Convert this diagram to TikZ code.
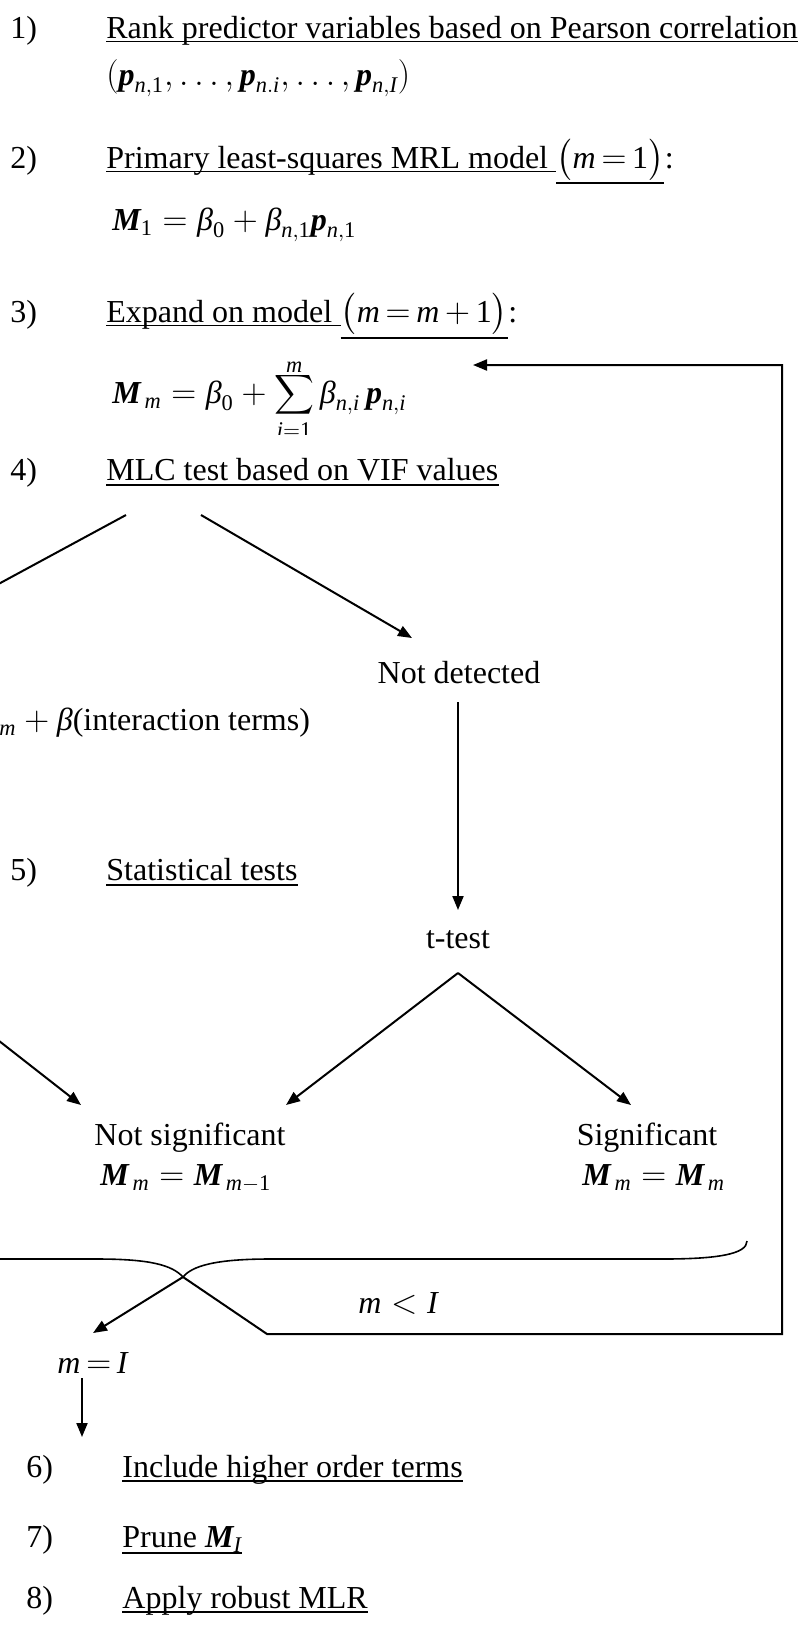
\documentclass[tikz,border=0pt]{standalone}
\usepackage{amsmath}
\usepackage{graphicx}
\usepackage{fontspec}
\setmainfont{Liberation Serif}
\usetikzlibrary{arrows.meta}
\newcommand\vi[1]{\text{\normalfont\itshape #1}}
\newcommand\vb[1]{\text{\normalfont\bfseries\itshape #1}}
\newcommand\tx[1]{\text{\normalfont #1}}
\newcommand\midsum{\mathop{\vcenter{\hbox{\scalebox{0.8}{$\displaystyle\sum$}}}}\limits}
\begin{document}
\begin{tikzpicture}[x=0.5pt,y=-0.5pt,
  font=\fontsize{16}{19}\selectfont,
  lbl/.style={anchor=base west, inner sep=0pt},
  ctr/.style={anchor=base, inner sep=0pt},
  conn/.style={line width=1pt,-{Triangle[length=7pt,width=5.5pt]}},
  plainline/.style={line width=1pt},
  uline/.style={line width=0.7pt},
  bracel/.style={line width=0.8pt}]
\useasboundingbox (0,0) rectangle (803,1629);
\begin{scope}
\clip (0,0) rectangle (803,1629);
% 1)
\node[lbl] (n1) at (10,38) {1)};
\node[lbl] (t1) at (106,38) {Rank predictor variables based on Pearson correlation};
\draw[uline] ([yshift=-1.8pt]t1.base west) -- ([yshift=-1.8pt]t1.base east);
\node[lbl] (e1) at (106,85) {$(\vb{p}_{\vi{n},\tx{1}},\ldots,\vb{p}_{\vi{n}.\vi{i}},\ldots,\vb{p}_{\vi{n},\vi{I}})$};
% 2)
\node[lbl] (n2) at (10,168) {2)};
\node[lbl] (t2) at (106,168) {Primary least-squares MRL model\kern4pt};
\node[lbl] (m2) at (t2.base east) {$\bigl(\vi{m}\,{=}\,\tx{1}\bigr)$};
\node[lbl] (c2) at (m2.base east) {:};
\draw[uline] ([yshift=-1.8pt]t2.base west) -- ([yshift=-1.8pt]t2.base east);
\draw[uline] ([yshift=-7.5pt]m2.base west) -- ([yshift=-7.5pt]m2.base east);
\node[lbl] (e2) at (112,230) {$\vb{M}_{\tx{1}}=\vi{β}_{\tx{0}}+\vi{β}_{\vi{n},\tx{1}}\vb{p}_{\vi{n},\tx{1}}$};
% 3)
\node[lbl] (n3) at (10,322) {3)};
\node[lbl] (t3) at (106,322) {Expand on model\kern4pt};
\node[lbl] (m3) at (t3.base east) {\smash{$\bigl(\vi{m}\,{=}\,\vi{m}\,{+}\,\tx{1}\bigr)$}};
\node[lbl] (c3) at (m3.base east) {:};
\draw[uline] ([yshift=-1.8pt]t3.base west) -- ([yshift=-1.8pt]t3.base east);
\draw[uline] ([yshift=-8pt]m3.base west) -- ([yshift=-8pt]m3.base east);
\begin{scope}
\clip (0,345) rectangle (803,434);
\node[lbl] (e3) at (112,403) {$\vb{M}_{\,\vi{m}}=\vi{β}_{\tx{0}}+\midsum_{\vi{i}=\tx{1}}^{\smash{\raisebox{-3.5pt}{$\scriptstyle\vi{m}$}}}\vi{β}_{\vi{n},\vi{i}}\,\vb{p}_{\vi{n},\vi{i}}$};
\end{scope}
% 4)
\node[lbl] (n4) at (10,480) {4)};
\node[lbl] (t4) at (106,480) {MLC test based on VIF values};
\draw[uline] ([yshift=-2.5pt]t4.base west) -- ([yshift=-2.5pt]t4.base east);
\node[ctr] (nd) at (459,683) {Not detected};
\node[lbl] (int) at (-1,730) {$_{\vi{m}}+\vi{β}$(interaction terms)};
% 5)
\node[lbl] (n5) at (10,880) {5)};
\node[lbl] (t5) at (106,880) {Statistical tests};
\draw[uline] ([yshift=-2.5pt]t5.base west) -- ([yshift=-2.5pt]t5.base east);
\node[ctr] (tt) at (458,948) {t-test};
\node[ctr] (ns) at (190,1145) {Not significant};
\node[lbl] (nse) at (100,1185) {$\vb{M}_{\,\vi{m}}=\vb{M}_{\,\vi{m}-\tx{1}}$};
\node[ctr] (sg) at (647,1145) {Significant};
\node[lbl] (sge) at (582,1185) {$\vb{M}_{\,\vi{m}}=\vb{M}_{\,\vi{m}}$};
\node[lbl] (lt) at (358,1313) {$\vi{m}<\vi{I}$};
\node[lbl] (eqI) at (57,1373) {$\vi{m}\,{=}\,\vi{I}$};
% 6-8
\node[lbl] (n6) at (26,1477) {6)};
\node[lbl] (t6) at (122,1477) {Include higher order terms};
\draw[uline] ([yshift=-2pt]t6.base west) -- ([yshift=-2pt]t6.base east);
\node[lbl] (n7) at (26,1547) {7)};
\node[lbl] (t7) at (122,1547) {Prune $\vb{M}_{\vi{I}}$};
\draw[uline] ([yshift=-3pt]t7.base west) -- ([yshift=-3pt]t7.base east);
\node[lbl] (n8) at (26,1608) {8)};
\node[lbl] (t8) at (122,1608) {Apply robust MLR};
\draw[uline] ([yshift=-2pt]t8.base west) -- ([yshift=-2pt]t8.base east);
% coordinates
\coordinate (aL) at (126,515);
\coordinate (aLend) at (-20,594);
\coordinate (aR) at (201,515);
\coordinate (aRtip) at (412,638);
\coordinate (vTop) at (458,702);
\coordinate (vTip) at (458,910);
\coordinate (tA) at (458,973);
\coordinate (tL) at (286,1105);
\coordinate (tR) at (631,1105);
\coordinate (lS) at (-20,1026);
\coordinate (lT) at (81,1105);
\coordinate (cusp) at (183,1277);
\coordinate (mI) at (93,1333);
\coordinate (kink) at (267,1334);
\coordinate (br) at (782,1334);
\coordinate (tr) at (782,365);
\coordinate (loopTip) at (473,365);
\coordinate (dTop) at (82,1378);
\coordinate (dTip) at (82,1437);
% connectors
\draw[plainline] (aL) -- (aLend);
\draw[conn] (aR) -- (aRtip);
\draw[conn] (vTop) -- (vTip);
\draw[conn] (tA) -- (tL);
\draw[conn] (tA) -- (tR);
\draw[conn] (lS) -- (lT);
\draw[conn] (cusp) -- (mI);
\draw[conn] (cusp) -- (kink) -- (br) -- (tr) -- (loopTip);
\draw[conn] (dTop) -- (dTip);
\draw[bracel] (-5,1259) -- (97,1259) .. controls (150,1259) and (172,1265) .. (cusp)
  .. controls (192,1266) and (215,1259) .. (270,1259) -- (663,1259)
  .. controls (718,1259) and (747,1254) .. (747,1241);
\end{scope}
\end{tikzpicture}
\end{document}
